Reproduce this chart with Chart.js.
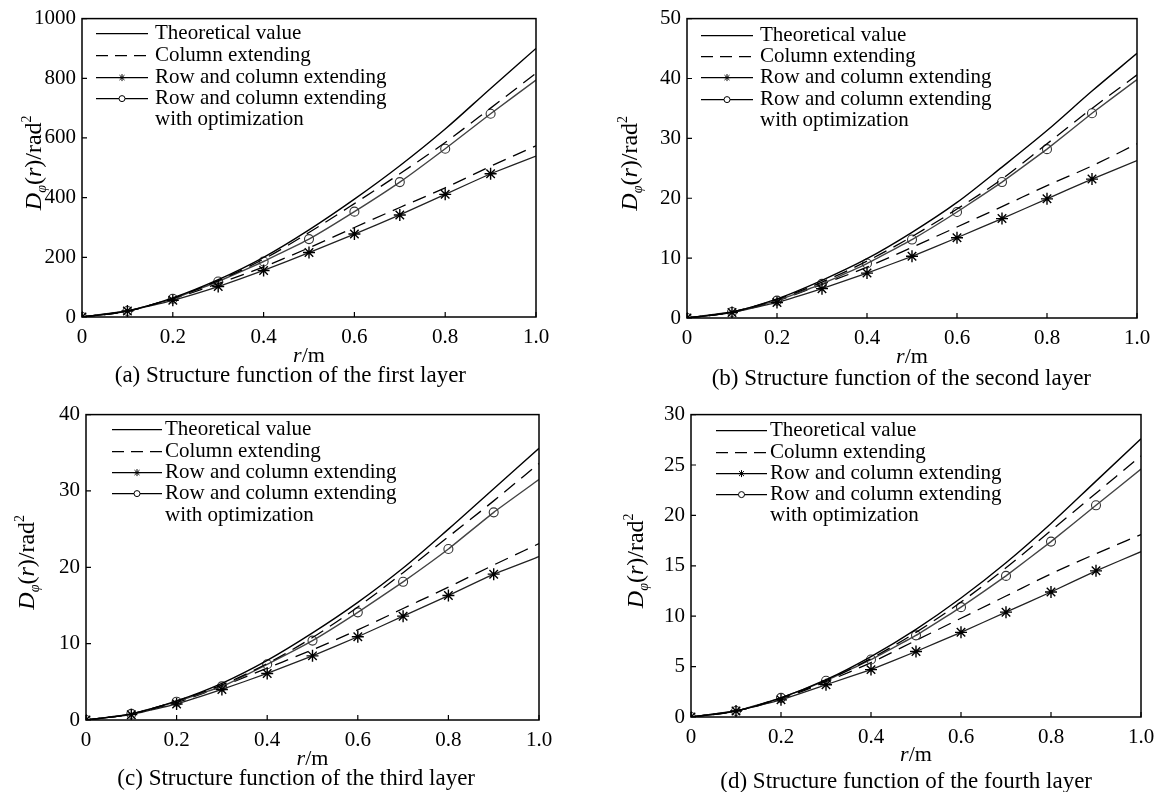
<!DOCTYPE html>
<html>
<head>
<meta charset="utf-8">
<script src="https://cdn.jsdelivr.net/npm/chart.js@4.4.1/dist/chart.umd.min.js"></script>
<style>
body { margin: 0; background: #fff; }
#wrap { position: relative; width: 1173px; height: 792px; overflow: hidden; }
canvas { position: absolute; }
</style>
</head>
<body>
<div id="wrap">
  <canvas id="ca" width="586" height="396" style="left:0px;top:0px"></canvas>
  <canvas id="cb" width="587" height="396" style="left:586px;top:0px"></canvas>
  <canvas id="cc" width="586" height="396" style="left:0px;top:396px"></canvas>
  <canvas id="cd" width="587" height="396" style="left:586px;top:396px"></canvas>
</div>
<script>
// r values (m)
var rVals = [0, 0.1, 0.2, 0.3, 0.4, 0.5, 0.6, 0.7, 0.8, 0.9, 1.0];
var xTicks = [0, 0.2, 0.4, 0.6, 0.8, 1.0];
var xTickLabels = ['0', '0.2', '0.4', '0.6', '0.8', '1.0'];

var seriesNames = ['Theoretical value', 'Column extending', 'Row and column extending',
                   'Row and column extending', 'with optimization'];

// (a) first layer
var yTicksA = [0, 200, 400, 600, 800, 1000];
var theoA = [0, 20, 64, 125, 200, 292, 395, 507, 630, 766, 900];
var colA  = [0, 20, 63, 122, 194, 283, 380, 480, 585, 700, 817];
var optA  = [0, 20, 61, 119, 186, 261, 353, 452, 564, 681, 794];
var colA2 = [0, 20, 61, 112, 168, 232, 300, 367, 433, 505, 574];
var rowA  = [0, 20, 56, 102, 156, 216, 278, 342, 411, 480, 539];

// (b) second layer
var yTicksB = [0, 10, 20, 30, 40, 50];
var theoB = [0, 1.0, 3.2, 6.3, 9.9, 14.3, 19.3, 25.2, 31.3, 37.9, 44.2];
var colB  = [0, 1.0, 3.1, 6.0, 9.5, 13.6, 18.2, 23.2, 29.1, 35.0, 40.6];
var optB  = [0, 1.0, 2.9, 5.7, 9.1, 13.1, 17.7, 22.7, 28.2, 34.2, 39.8];
var colB2 = [0, 0.95, 2.9, 5.6, 8.5, 11.8, 15.2, 18.6, 22.1, 25.4, 29.1];
var rowB  = [0, 0.9, 2.6, 4.9, 7.5, 10.3, 13.4, 16.6, 19.9, 23.2, 26.3];

// (c) third layer
var yTicksC = [0, 10, 20, 30, 40];
var theoC = [0, 0.8, 2.5, 4.8, 7.8, 11.4, 15.4, 19.9, 25.0, 30.3, 35.6];
var colC  = [0, 0.8, 2.5, 4.6, 7.4, 10.8, 14.8, 19.3, 24.0, 28.7, 33.6];
var optC  = [0, 0.8, 2.4, 4.4, 7.3, 10.4, 14.1, 18.1, 22.4, 27.2, 31.5];
var colC2 = [0, 0.8, 2.3, 4.4, 6.8, 9.2, 11.8, 14.6, 17.4, 20.3, 23.1];
var rowC  = [0, 0.7, 2.1, 4.0, 6.1, 8.4, 10.9, 13.6, 16.3, 19.1, 21.4];

// (d) fourth layer
var yTicksD = [0, 5, 10, 15, 20, 25, 30];
var theoD = [0, 0.6, 1.9, 3.7, 6.0, 8.7, 11.8, 15.3, 19.2, 23.4, 27.6];
var colD  = [0, 0.6, 1.9, 3.6, 5.8, 8.4, 11.4, 14.8, 18.5, 22.2, 25.9];
var optD  = [0, 0.6, 1.9, 3.6, 5.7, 8.1, 10.9, 14.0, 17.4, 21.0, 24.6];
var colD2 = [0, 0.6, 1.8, 3.5, 5.4, 7.6, 9.8, 12.0, 14.2, 16.2, 18.1];
var rowD  = [0, 0.6, 1.7, 3.2, 4.7, 6.5, 8.4, 10.4, 12.4, 14.5, 16.4];

var captions = ['(a) Structure function of the first layer',
                '(b) Structure function of the second layer',
                '(c) Structure function of the third layer',
                '(d) Structure function of the fourth layer'];

var FONT = '"Liberation Serif", "Times New Roman", serif';

// layout of each panel (absolute page pixels)
var panels = [
  { id: 'ca', left: 0, top: 0, w: 586, h: 396, plot: [82, 17, 536, 317], yTicks: yTicksA,
    data: [theoA, colA, rowA, optA, colA2], caption: captions[0], capRight: 466, capY: 375, xTitleY: 355,
    yTitleX: 41, lg: { s0: 14, s1: 66, tx: 73, rows: [15, 37, 59, 80, 101] } },
  { id: 'cb', left: 586, top: 0, w: 587, h: 396, plot: [687, 18, 1137, 318], yTicks: yTicksB,
    data: [theoB, colB, rowB, optB, colB2], caption: captions[1], capRight: 1091, capY: 378, xTitleY: 356,
    yTitleX: 637, lg: { s0: 14, s1: 66, tx: 73, rows: [17, 38, 59, 81, 102] } },
  { id: 'cc', left: 0, top: 396, w: 586, h: 396, plot: [86, 412, 539, 720], yTicks: yTicksC,
    data: [theoC, colC, rowC, optC, colC2], caption: captions[2], capRight: 475, capY: 778, xTitleY: 758,
    yTitleX: 34, lg: { s0: 26, s1: 76, tx: 79, rows: [15, 37, 58, 79, 101] } },
  { id: 'cd', left: 586, top: 396, w: 587, h: 396, plot: [691, 413, 1141, 717], yTicks: yTicksD,
    data: [theoD, colD, rowD, optD, colD2], caption: captions[3], capRight: 1092, capY: 781, xTitleY: 754,
    yTitleX: 643, lg: { s0: 25, s1: 76, tx: 79, rows: [16, 38, 59, 80, 101] } }
];

function pts(arr) {
  return arr.map(function (v, i) { return { x: rVals[i], y: v }; });
}

function markerRadius(r) {
  return rVals.map(function (v, i) { return i === rVals.length - 1 ? 0 : r; });
}

function richText(ctx, parts, x, y, align) {
  var w = 0;
  parts.forEach(function (p) { ctx.font = p[1]; w += ctx.measureText(p[0]).width; });
  var cx = align === 'center' ? x - w / 2 : (align === 'right' ? x - w : x);
  ctx.textAlign = 'left';
  ctx.textBaseline = 'alphabetic';
  parts.forEach(function (p) {
    ctx.font = p[1];
    ctx.fillText(p[0], cx, y + (p[2] || 0));
    cx += ctx.measureText(p[0]).width;
  });
}

function drawStar(ctx, x, y, r) {
  ctx.beginPath();
  for (var k = 0; k < 4; k++) {
    var a = k * Math.PI / 4;
    ctx.moveTo(x - r * Math.cos(a), y - r * Math.sin(a));
    ctx.lineTo(x + r * Math.cos(a), y + r * Math.sin(a));
  }
  ctx.stroke();
}

var framePlugin = {
  id: 'frame',
  afterDraw: function (chart) {
    var p = chart.options.plugins.frame;
    var ctx = chart.ctx;
    var a = chart.chartArea;
    var xs = chart.scales.x, ys = chart.scales.y;
    ctx.save();
    ctx.strokeStyle = '#000';
    ctx.fillStyle = '#000';
    // box
    ctx.lineWidth = 1.5;
    ctx.strokeRect(a.left, a.top, a.right - a.left, a.bottom - a.top);
    // inward ticks
    ctx.lineWidth = 1.2;
    ctx.beginPath();
    xs.ticks.forEach(function (t) {
      var px = xs.getPixelForValue(t.value);
      ctx.moveTo(px, a.bottom); ctx.lineTo(px, a.bottom - 5);
    });
    ys.ticks.forEach(function (t) {
      var py = ys.getPixelForValue(t.value);
      ctx.moveTo(a.left, py); ctx.lineTo(a.left + 5, py);
    });
    ctx.stroke();

    // legend
    var lg = p.lg;
    var big = '21px ' + FONT;
    ctx.font = big;
    ctx.textBaseline = 'middle';
    ctx.textAlign = 'left';
    for (var i = 0; i < 4; i++) {
      var ly = a.top + lg.rows[i];
      ctx.lineWidth = 1.2;
      ctx.setLineDash(i === 1 ? [12, 7] : []);
      ctx.beginPath();
      ctx.moveTo(a.left + lg.s0, ly); ctx.lineTo(a.left + lg.s1, ly);
      ctx.stroke();
      ctx.setLineDash([]);
      var mx = (a.left + lg.s0 + a.left + lg.s1) / 2;
      ctx.lineWidth = 1;
      if (i === 2) drawStar(ctx, mx, ly, 3.5);
      if (i === 3) {
        ctx.fillStyle = '#fff';
        ctx.beginPath(); ctx.arc(mx, ly, 3, 0, Math.PI * 2); ctx.fill(); ctx.stroke();
        ctx.fillStyle = '#000';
      }
      ctx.font = big;
      ctx.textBaseline = 'middle';
      ctx.fillText(seriesNames[i], a.left + lg.tx, ly);
    }
    ctx.fillText(seriesNames[4], a.left + lg.tx, a.top + lg.rows[4]);

    // x title  r/m
    var cx = (a.left + a.right) / 2;
    richText(ctx, [['r', 'italic 22px ' + FONT], ['/m', '22px ' + FONT]], cx, p.xTitleY + 7, 'center');
    // caption
    richText(ctx, [[p.caption, '23px ' + FONT]], p.capRight, p.capY + 7, 'right');
    // y title  D_phi(r)/rad^2
    ctx.save();
    ctx.translate(p.yTitleX, (a.top + a.bottom) / 2 - 5);
    ctx.rotate(-Math.PI / 2);
    richText(ctx, [
      ['D', 'italic 24px ' + FONT],
      ['\u03C6', 'italic 14px ' + FONT, 5],
      ['(', '24px ' + FONT],
      ['r', 'italic 24px ' + FONT],
      [')/rad', '24px ' + FONT],
      ['2', '14px ' + FONT, -10]
    ], 0, 0, 'center');
    ctx.restore();
    ctx.restore();
  }
};

panels.forEach(function (pn) {
  var d = pn.data;
  var plotL = pn.plot[0] - pn.left, plotT = pn.plot[1] - pn.top;
  var plotR = pn.plot[2] - pn.left, plotB = pn.plot[3] - pn.top;
  var yMax = pn.yTicks[pn.yTicks.length - 1];
  var smooth = { tension: 0.4, cubicInterpolationMode: 'monotone' };
  var ctx = document.getElementById(pn.id).getContext('2d');
  new Chart(ctx, {
    type: 'line',
    data: {
      datasets: [
        Object.assign({ label: seriesNames[0], data: pts(d[0]), borderColor: '#000', borderWidth: 1.4,
          pointRadius: 0 }, smooth),
        Object.assign({ label: seriesNames[1], data: pts(d[1]), borderColor: '#000', borderWidth: 1.3,
          borderDash: [14, 8], pointRadius: 0 }, smooth),
        { label: seriesNames[2], data: pts(d[2]), borderColor: '#222', borderWidth: 1.3, tension: 0.1,
          pointStyle: 'star', pointRadius: markerRadius(6), pointBorderColor: '#000', pointBorderWidth: 1.4 },
        { label: seriesNames[3] + ' ' + seriesNames[4], data: pts(d[3]), borderColor: '#444', borderWidth: 1.4,
          tension: 0.1, pointStyle: 'circle', pointRadius: markerRadius(4.5), pointBorderColor: '#333',
          pointBackgroundColor: 'rgba(255,255,255,0)', pointBorderWidth: 1.1 },
        Object.assign({ label: seriesNames[1] + ' (row)', data: pts(d[4]), borderColor: '#000', borderWidth: 1.3,
          borderDash: [14, 8], pointRadius: 0 }, smooth)
      ]
    },
    options: {
      responsive: false,
      animation: false,
      layout: { padding: { left: 0, top: plotT, right: pn.w - plotR, bottom: 0 } },
      plugins: {
        legend: { display: false },
        tooltip: { enabled: false },
        frame: { lg: pn.lg, caption: pn.caption, capRight: pn.capRight - pn.left, capY: pn.capY - pn.top,
                 xTitleY: pn.xTitleY - pn.top, yTitleX: pn.yTitleX - pn.left }
      },
      scales: {
        x: {
          type: 'linear', min: 0, max: 1,
          afterBuildTicks: function (s) { s.ticks = xTicks.map(function (v) { return { value: v }; }); },
          afterFit: function (s) { s.height = pn.h - plotB; },
          grid: { display: false, drawTicks: false },
          border: { display: false },
          ticks: { autoSkip: false, maxRotation: 0, padding: 8, color: '#000',
                   font: { family: FONT, size: 21 },
                   callback: function (v, i) { return xTickLabels[i]; } }
        },
        y: {
          type: 'linear', min: 0, max: yMax,
          afterBuildTicks: function (s) { s.ticks = pn.yTicks.map(function (v) { return { value: v }; }); },
          afterFit: function (s) { s.width = plotL; },
          grid: { display: false, drawTicks: false },
          border: { display: false },
          ticks: { padding: 6, color: '#000', font: { family: FONT, size: 21 },
                   callback: function (v) { return String(v); } }
        }
      }
    },
    plugins: [framePlugin]
  });
});
</script>
</body>
</html>
